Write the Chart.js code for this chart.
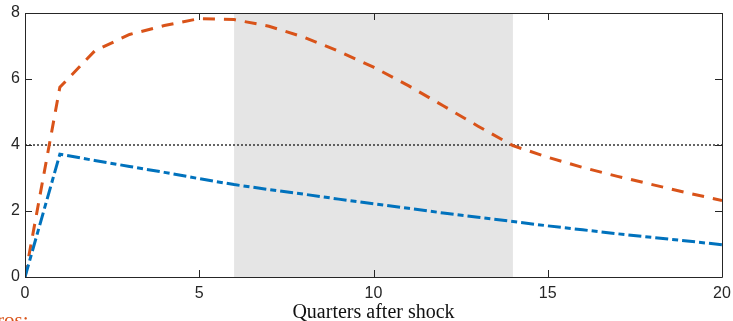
<!DOCTYPE html>
<html>
<head>
<meta charset="utf-8">
<script src="https://cdn.jsdelivr.net/npm/chart.js@4/dist/chart.umd.min.js"></script>
<style>
  html, body { margin: 0; padding: 0; background: #fff; }
  #wrap { width: 733px; height: 321px; position: relative; }
</style>
</head>
<body>
<div id="wrap"><canvas id="irf"></canvas></div>
<script>
const quarters = [0,1,2,3,4,5,6,7,8,9,10,11,12,13,14,15,16,17,18,19,20];
const scenarioA = [0, 5.75, 6.85, 7.35, 7.62, 7.83, 7.8, 7.6, 7.27, 6.84, 6.36, 5.8, 5.19, 4.57, 3.98, 3.63, 3.32, 3.05, 2.8, 2.55, 2.32];
const scenarioB = [0, 3.72, 3.53, 3.35, 3.17, 2.98, 2.8, 2.65, 2.51, 2.36, 2.22, 2.08, 1.94, 1.81, 1.68, 1.55, 1.43, 1.31, 1.2, 1.09, 0.98];
const threshold = 4;
const shadedRange = [6, 14];
const xTicks = [0, 5, 10, 15, 20];
const yTicks = [0, 2, 4, 6, 8];

const axisColor = '#262626';

// grey band + box with inward ticks, matlab style
const framePlugin = {
    id: 'frame',
    beforeDatasetsDraw(chart) {
        const { ctx, chartArea: a, scales: { x } } = chart;
        const x0 = x.getPixelForValue(shadedRange[0]);
        const x1 = x.getPixelForValue(shadedRange[1]);
        ctx.save();
        ctx.fillStyle = '#e5e5e5';
        ctx.fillRect(x0, a.top, x1 - x0, a.bottom - a.top);
        ctx.restore();
    },
    afterDatasetsDraw(chart) {
        const { ctx, chartArea: a, scales: { x, y } } = chart;
        ctx.save();
        ctx.strokeStyle = axisColor;
        ctx.lineWidth = 1;
        ctx.beginPath();
        ctx.rect(a.left + 0.5, a.top + 0.5, a.right - a.left, a.bottom - a.top);
        const len = 7;
        xTicks.forEach(v => {
            const px = Math.round(x.getPixelForValue(v)) + 0.5;
            ctx.moveTo(px, a.bottom); ctx.lineTo(px, a.bottom - len);
            ctx.moveTo(px, a.top); ctx.lineTo(px, a.top + len);
        });
        yTicks.forEach(v => {
            const py = Math.round(y.getPixelForValue(v)) + 0.5;
            ctx.moveTo(a.left, py); ctx.lineTo(a.left + len, py);
            ctx.moveTo(a.right, py); ctx.lineTo(a.right - len, py);
        });
        ctx.stroke();
        // cut-off legend text below the figure
        ctx.fillStyle = '#D95319';
        ctx.font = '21px "Liberation Serif", "DejaVu Serif", serif';
        ctx.textBaseline = 'alphabetic';
        ctx.textAlign = 'left';
        ctx.fillText('ros:', -3, 327);
        ctx.restore();
    }
};

new Chart(document.getElementById('irf'), {
    type: 'line',
    data: {
        labels: quarters,
        datasets: [
            {
                label: 'threshold',
                data: quarters.map(q => ({ x: q, y: threshold })),
                borderColor: '#333333',
                borderWidth: 1.7,
                borderDash: [2, 2],
                pointRadius: 0,
                order: 3
            },
            {
                label: 'A',
                data: quarters.map((q, i) => ({ x: q, y: scenarioA[i] })),
                borderColor: '#D95319',
                borderWidth: 3,
                borderDash: [12, 9],
                pointRadius: 0,
                order: 2
            },
            {
                label: 'B',
                data: quarters.map((q, i) => ({ x: q, y: scenarioB[i] })),
                borderColor: '#0072BD',
                borderWidth: 3,
                borderDash: [13, 4, 6, 4],
                pointRadius: 0,
                order: 1
            }
        ]
    },
    options: {
        responsive: true,
        maintainAspectRatio: false,
        animation: false,
        layout: { padding: { top: 13, right: 11, left: 0, bottom: 0 } },
        plugins: { legend: { display: false }, tooltip: { enabled: false } },
        scales: {
            x: {
                type: 'linear',
                min: 0,
                max: 20,
                afterBuildTicks: s => { s.ticks = xTicks.map(v => ({ value: v })); },
                afterFit: s => { s.height = 44; s.paddingLeft = 0; s.paddingRight = 0; },
                grid: { display: false, drawTicks: false },
                border: { display: false },
                ticks: {
                    padding: 7,
                    maxRotation: 0,
                    color: axisColor,
                    font: { family: '"Liberation Sans", Arial, sans-serif', size: 16 }
                },
                title: {
                    display: true,
                    text: 'Quarters after shock',
                    color: '#111',
                    padding: { top: 0, bottom: -4 },
                    font: { family: '"Liberation Serif", "DejaVu Serif", serif', size: 20 }
                }
            },
            y: {
                min: 0,
                max: 8,
                afterBuildTicks: s => { s.ticks = yTicks.map(v => ({ value: v })); },
                afterFit: s => { s.width = 25; s.paddingTop = 0; s.paddingBottom = 0; },
                grid: { display: false, drawTicks: false },
                border: { display: false },
                ticks: {
                    padding: 5,
                    color: axisColor,
                    font: { family: '"Liberation Sans", Arial, sans-serif', size: 16 }
                }
            }
        }
    },
    plugins: [framePlugin]
});
</script>
</body>
</html>
